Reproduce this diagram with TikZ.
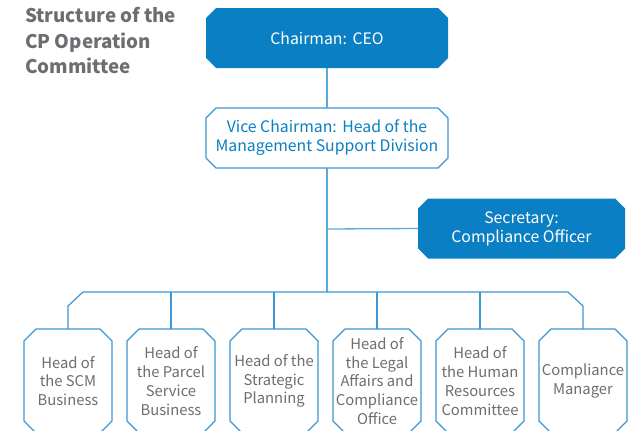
\documentclass[tikz,border=0pt]{standalone}
\usepackage{fontspec}
\setmainfont{Noto Sans CJK KR}
\usetikzlibrary{calc,backgrounds}
\definecolor{boxblue}{HTML}{0A7FC3}
\definecolor{lineblue}{HTML}{5AA9DD}
\definecolor{edgeblue}{HTML}{3D96D5}
\definecolor{txtgray}{HTML}{6D6E71}
\newcommand\octpath[2]{($(#1.north west)+(#2,0)$) -- ($(#1.north east)+(-#2,0)$) -- ($(#1.north east)+(0,#2)$) -- ($(#1.south east)+(0,-#2)$) -- ($(#1.south east)+(-#2,0)$) -- ($(#1.south west)+(#2,0)$) -- ($(#1.south west)+(0,-#2)$) -- ($(#1.north west)+(0,#2)$) -- cycle}
\begin{document}
\begin{tikzpicture}[x=1pt,y=-1pt,
  octbox/.style={rectangle, inner sep=0pt, outer sep=0pt, align=center},
  darkbox/.style={octbox, text=white, font=\fontsize{15.8}{19}\selectfont},
  lightbox/.style={octbox, text=boxblue, font=\fontsize{15.8}{19}\selectfont},
  unitbox/.style={octbox, text=txtgray, minimum width=88pt, minimum height=104pt,
    font=\fontsize{14.8}{18.8}\selectfont},
  darkfill/.style={fill=boxblue},
  lightedge/.style={fill=white, draw=edgeblue, line width=1.1pt},
  conn/.style={draw=lineblue, line width=1.3pt},
  bus/.style={draw=edgeblue, line width=1.2pt}]
\useasboundingbox (0,0) rectangle (633,431);
\clip (0,0) rectangle (633,431);
\node[anchor=north west, align=left, text=txtgray, font=\bfseries\fontsize{18.8}{25.5}\selectfont, inner sep=0pt] (title) at (25,7.5) {Structure of the\\CP Operation\\Committee};
\node[darkbox, minimum width=242pt, minimum height=60pt] (ceo) at (327,38) {Chairman:\hspace{0.35em}CEO};
\node[lightbox, minimum width=242pt, minimum height=60pt] (vice) at (327,138) {Vice Chairman:\hspace{0.35em}Head of the\\Management Support Division};
\node[darkbox, minimum width=207pt, minimum height=60pt] (sec) at (521.5,228.5) {Secretary:\\Compliance Officer};
\node[unitbox] (u1) at (68,381) {Head of\\the SCM\\Business};
\node[unitbox] (u2) at (171,381) {Head of\\the Parcel\\Service\\Business};
\node[unitbox] (u3) at (274,381) {Head of the\\Strategic\\Planning};
\node[unitbox] (u4) at (377,381) {Head of\\the Legal\\Affairs and\\Compliance\\Office};
\node[unitbox] (u5) at (480,381) {Head of\\the Human\\Resources\\Committee};
\node[unitbox] (u6) at (583,381) {Compliance\\Manager};
\begin{scope}[on background layer]
  \fill[darkfill] \octpath{ceo}{10};
  \fill[darkfill] \octpath{sec}{10};
  \path[lightedge] \octpath{vice}{10};
  \foreach \u in {u1,u2,u3,u4,u5,u6} \path[lightedge] \octpath{\u}{12};
\end{scope}
\coordinate (bushub) at (327,292);
\coordinate (sechub) at (327,229);
\draw[conn] (ceo.south) -- (vice.north);
\draw[conn] (vice.south) -- (bushub);
\draw[conn] (sechub) -- (sec.west);
\draw[bus] (u1.north) -- (68,306) -- (83,292) -- (568,292) -- (583,306) -- (u6.north);
\foreach \u in {u2,u3,u4,u5} \draw[bus] (\u.north) -- (\u.north |- bushub);
\end{tikzpicture}
\end{document}
